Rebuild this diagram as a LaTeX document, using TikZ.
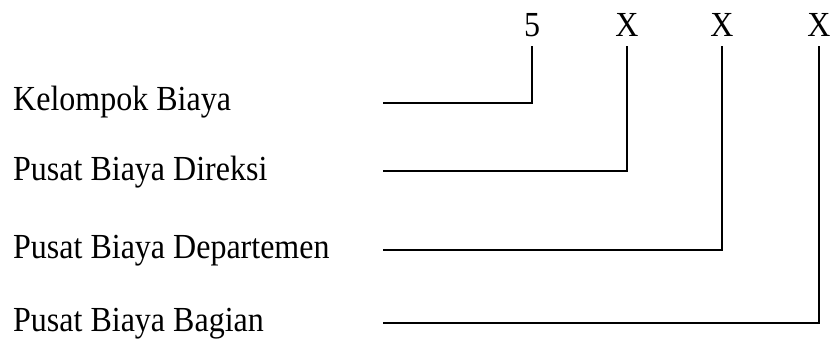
\documentclass[tikz,border=0pt]{standalone}
\usepackage{fontspec}
\setmainfont{Liberation Serif}
\begin{document}
\begin{tikzpicture}[x=1pt,y=-1pt,
  txt/.style={inner sep=0pt,font=\fontsize{32}{38}\selectfont,yscale=1.1,transform shape},
  lbl/.style={txt,anchor=base west},
  digit/.style={txt,anchor=base},
  link/.style={line width=1.6pt,line cap=rect}]
  \useasboundingbox (0,0) rectangle (833,340);
  % code digits
  \node[digit] (d1) at (532,36) {5};
  \node[digit] (d2) at (627,36) {X};
  \node[digit] (d3) at (722,36) {X};
  \node[digit] (d4) at (819,36) {X};
  % level labels
  \node[lbl] (l1) at (13,110) {Kelompok Biaya};
  \node[lbl] (l2) at (13,180) {Pusat Biaya Direksi};
  \node[lbl] (l3) at (13,258) {Pusat Biaya Departemen};
  \node[lbl] (l4) at (13,331) {Pusat Biaya Bagian};
  % start points of the connectors
  \coordinate (s1) at (384,103);
  \coordinate (s2) at (384,171);
  \coordinate (s3) at (384,250);
  \coordinate (s4) at (384,323);
  % connectors up to each digit
  \draw[link] (s1) -| ([yshift=-11pt]d1.base);
  \draw[link] (s2) -| ([yshift=-11pt]d2.base);
  \draw[link] (s3) -| ([yshift=-11pt]d3.base);
  \draw[link] (s4) -| ([yshift=-11pt]d4.base);
\end{tikzpicture}
\end{document}
